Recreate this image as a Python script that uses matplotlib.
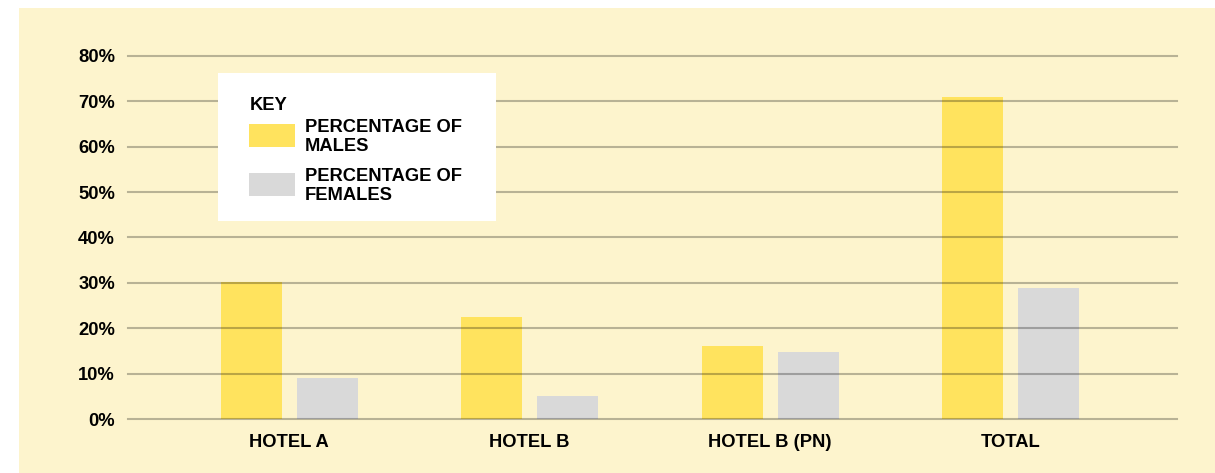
import matplotlib
matplotlib.use("Agg")
import matplotlib.pyplot as plt
from matplotlib.patches import Rectangle
import numpy as np

categories = ["HOTEL A", "HOTEL B", "HOTEL B (PN)", "TOTAL"]
males = [30.2, 22.5, 16.1, 70.9]
females = [9.0, 5.1, 14.8, 28.9]
series_labels = ["PERCENTAGE OF\nMALES", "PERCENTAGE OF\nFEMALES"]
yticks = [0, 10, 20, 30, 40, 50, 60, 70, 80]

YELLOW = "#ffe35e"
GRAY = "#d9d9d9"
CREAM = "#fdf4cd"

plt.rcParams['font.family'] = ['Liberation Sans', 'DejaVu Sans']

W, H = 1215, 473
fig = plt.figure(figsize=(W / 100, H / 100), dpi=100, facecolor="white")

# cream panel
fig.patches.append(Rectangle((19 / W, 0), 1 - 19 / W, 1 - 8 / H, transform=fig.transFigure,
                             facecolor=CREAM, edgecolor="none", zorder=-5))

ax = fig.add_axes([128 / W, 1 - 419 / H, (1177 - 128) / W, (419 - 56) / H])
ax.set_facecolor("none")
ax.set_zorder(1)

x = np.arange(len(categories))
w = 0.253
off = 0.158
ax.bar(x - off, males, width=w, color=YELLOW, zorder=1)
ax.bar(x + off, females, width=w, color=GRAY, zorder=1)

ax.set_xlim(-0.670, 3.692)
ax.set_ylim(0, 80)
ax.set_yticks(yticks)
ax.set_yticklabels([f"{t}%" for t in yticks], fontsize=13.2, fontweight="bold")
ax.set_xticks(x)
ax.set_xticklabels(categories, fontsize=13.2, fontweight="bold")
ax.tick_params(axis="both", length=0)
ax.tick_params(axis="y", pad=9.4)
ax.tick_params(axis="x", pad=10.5)
for s in ax.spines.values():
    s.set_visible(False)

ax.set_axisbelow(False)
ax.yaxis.grid(True, color="black", alpha=0.27, linewidth=1.5)
for gl in ax.get_ygridlines():
    gl.set_clip_on(False)
    gl.set_zorder(3)
ax.xaxis.grid(False)

# manual key box
def fx(px):
    return px / W

def fy(py):
    return 1 - py / H

fig.patches.append(Rectangle((fx(218), fy(221)), (496 - 218) / W, (221 - 73) / H,
                             transform=fig.transFigure, facecolor="white", edgecolor="none", zorder=5))
fig.text(fx(250), fy(105), "KEY", fontsize=13.2, fontweight="bold", va="center", ha="left", zorder=6)
swatch_y = [124, 173]
colors = [YELLOW, GRAY]
for sy, c, lab in zip(swatch_y, colors, series_labels):
    fig.patches.append(Rectangle((fx(249), fy(sy + 23)), 46 / W, 23 / H, transform=fig.transFigure,
                                 facecolor=c, edgecolor="none", zorder=6))
    fig.text(fx(305), fy(sy + 13), lab, fontsize=13.2, fontweight="bold", va="center", ha="left",
             linespacing=1.12, zorder=6)

fig.savefig("out.png", dpi=100, facecolor="white")
